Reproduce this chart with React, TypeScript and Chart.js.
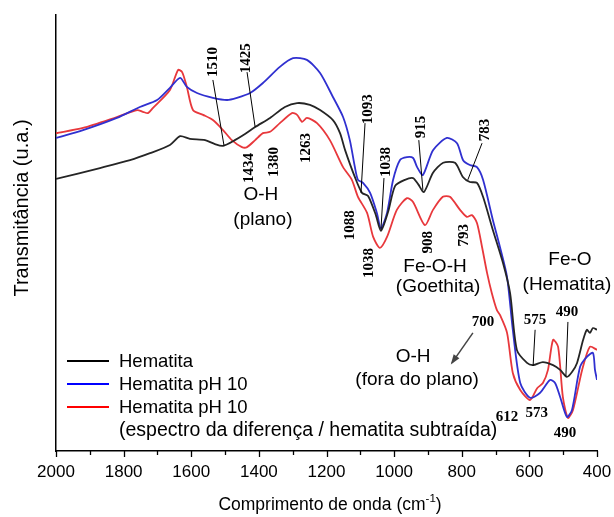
import React, { useEffect, useRef } from "react";
import { Chart, registerables } from "chart.js";
Chart.register(...registerables);

// Wavenumbers (cm-1) and transmittance (arbitrary units 0-100)
const hematitaWn = [2000, 1870, 1781, 1722, 1663, 1633, 1604, 1559, 1530, 1506, 1471, 1441, 1411, 1367, 1323, 1287, 1249, 1219, 1181, 1160, 1145, 1116, 1095, 1077, 1054, 1039, 1018, 997, 968, 944, 929, 912, 885, 855, 820, 796, 776, 755, 737, 708, 678, 657, 637, 607, 589, 560, 530, 509, 489, 474, 459, 441, 430, 421, 412, 400];
const hematitaT = [62.4, 64.9, 66.7, 68.3, 70.2, 72.2, 71.6, 71.3, 70.4, 70.0, 71.3, 72.7, 74.3, 76.4, 78.9, 79.8, 79.4, 78.2, 75.9, 72.9, 69.0, 62.8, 59.2, 58.5, 54.1, 50.5, 54.8, 60.8, 62.2, 62.6, 61.2, 59.4, 63.8, 66.1, 66.1, 62.8, 61.7, 61.5, 58.3, 50.7, 43.1, 36.2, 23.2, 20.2, 19.7, 20.4, 19.7, 18.6, 17.0, 18.1, 20.2, 25.5, 27.8, 27.1, 28.2, 27.8];

const ph10Wn = [2000, 1920, 1820, 1752, 1701, 1663, 1633, 1613, 1583, 1536, 1494, 1465, 1426, 1388, 1338, 1299, 1258, 1219, 1181, 1151, 1131, 1116, 1107, 1092, 1071, 1051, 1039, 1021, 1003, 983, 962, 944, 932, 915, 885, 844, 814, 796, 776, 755, 737, 708, 687, 666, 649, 627, 598, 569, 539, 524, 509, 489, 474, 450, 430, 412, 406, 400];
const ph10T = [71.8, 73.6, 76.4, 78.9, 80.5, 83.3, 85.6, 83.5, 82.1, 81.0, 80.5, 81.0, 82.1, 84.4, 88.1, 90.1, 89.7, 86.7, 81.2, 76.6, 71.3, 65.1, 62.2, 61.5, 59.2, 54.6, 51.1, 54.6, 62.2, 66.7, 67.4, 67.2, 65.1, 63.3, 69.0, 71.8, 70.6, 66.7, 65.6, 65.1, 62.2, 53.0, 46.8, 39.9, 27.8, 15.6, 12.2, 13.3, 16.3, 15.6, 12.4, 7.8, 9.4, 19.3, 21.6, 22.5, 18.6, 16.3];

const diffWn = [2000, 1920, 1820, 1760, 1743, 1728, 1713, 1663, 1639, 1627, 1613, 1595, 1565, 1536, 1506, 1480, 1450, 1435, 1411, 1388, 1367, 1338, 1302, 1287, 1272, 1258, 1228, 1190, 1151, 1125, 1107, 1080, 1062, 1042, 1021, 992, 962, 944, 909, 885, 856, 835, 805, 785, 770, 755, 740, 725, 711, 696, 687, 666, 649, 627, 598, 577, 560, 545, 530, 515, 501, 486, 471, 444, 421, 400];
const diffT = [72.9, 74.1, 76.6, 78.2, 77.8, 77.5, 78.7, 82.8, 87.4, 86.9, 83.5, 78.2, 77.1, 75.9, 73.6, 71.3, 69.7, 69.7, 71.3, 72.9, 73.2, 75.2, 77.5, 77.1, 75.5, 76.4, 75.2, 71.3, 65.1, 62.2, 58.3, 54.6, 49.1, 46.6, 49.1, 55.3, 58.0, 57.1, 51.8, 55.3, 58.3, 58.3, 55.3, 53.7, 54.1, 52.3, 46.8, 40.8, 36.2, 32.3, 31.2, 27.1, 17.9, 14.0, 11.7, 14.4, 15.6, 18.6, 25.5, 23.9, 12.4, 7.6, 9.4, 18.6, 23.9, 23.2];

const seriesNames = ["Hematita", "Hematita pH 10", "Hematita pH 10"];
const legendNote = "(espectro da diferença / hematita subtraída)";
const xTicks = [2000, 1800, 1600, 1400, 1200, 1000, 800, 600, 400];

// Band labels: text, wavenumber, transmittance of label centre
const rotatedBands = [
  { text: "1510", wn: 1539, t: 89.2 },
  { text: "1425", wn: 1441, t: 90.1 },
  { text: "1434", wn: 1432, t: 64.9 },
  { text: "1380", wn: 1358, t: 66.3 },
  { text: "1263", wn: 1264, t: 69.5 },
  { text: "1093", wn: 1080, t: 78.4 },
  { text: "1038", wn: 1027, t: 66.3 },
  { text: "915", wn: 924, t: 74.3 },
  { text: "783", wn: 734, t: 73.6 },
  { text: "1088", wn: 1134, t: 51.8 },
  { text: "1038", wn: 1077, t: 43.1 },
  { text: "908", wn: 903, t: 47.9 },
  { text: "793", wn: 796, t: 49.5 },
];
const flatBands = [
  { text: "700", wn: 737, t: 29.6 },
  { text: "575", wn: 583, t: 30.0 },
  { text: "490", wn: 489, t: 31.9 },
  { text: "612", wn: 666, t: 7.8 },
  { text: "573", wn: 578, t: 8.7 },
  { text: "490", wn: 495, t: 4.1 },
];
const groupLabels = [
  { text: "O-H", wn: 1394, t: 58.7 },
  { text: "(plano)", wn: 1388, t: 53.0 },
  { text: "Fe-O-H", wn: 879, t: 42.2 },
  { text: "(Goethita)", wn: 870, t: 37.6 },
  { text: "Fe-O", wn: 480, t: 43.8 },
  { text: "(Hematita)", wn: 489, t: 38.1 },
  { text: "O-H", wn: 944, t: 21.6 },
  { text: "(fora do plano)", wn: 932, t: 16.3 },
];
// leader lines: [wn1, t1, wn2, t2]
const leaders = [
  [1536, 85.1, 1503, 70.0],
  [1435, 86.9, 1411, 74.3],
  [1086, 75.2, 1098, 59.2],
  [1030, 62.6, 1039, 50.7],
  [927, 71.3, 915, 59.9],
  [740, 70.6, 782, 62.2],
  [583, 27.8, 589, 19.5],
  [486, 29.6, 492, 17.2],
];
const arrow = [767, 27.1, 829, 20.2];

const SANS = '"Liberation Sans", Arial, sans-serif';
const SERIF = '"Liberation Serif", "Times New Roman", serif';

const toPts = (xs: number[], ys: number[]) => xs.map((x, i) => ({ x, y: ys[i] }));

const decorPlugin = {
  id: "decor",
  afterDraw(chart: any) {
    const { ctx, chartArea, scales } = chart;
    const x = scales.x, y = scales.y;
    ctx.save();
    // x ticks
    ctx.strokeStyle = "#000";
    ctx.lineWidth = 1.3;
    for (let w = 400; w <= 2000; w += 100) {
      const px = Math.round(x.getPixelForValue(w)) + 0.5;
      const len = w % 200 === 0 ? 6 : 4;
      ctx.beginPath();
      ctx.moveTo(px, chartArea.bottom);
      ctx.lineTo(px, chartArea.bottom + len);
      ctx.stroke();
    }
    // leader lines
    ctx.lineWidth = 1;
    ctx.strokeStyle = "#000";
    leaders.forEach(([a, b, c, d]) => {
      ctx.beginPath();
      ctx.moveTo(x.getPixelForValue(a), y.getPixelForValue(b));
      ctx.lineTo(x.getPixelForValue(c), y.getPixelForValue(d));
      ctx.stroke();
    });
    // arrow
    {
      const x1 = x.getPixelForValue(arrow[0]), y1 = y.getPixelForValue(arrow[1]);
      const x2 = x.getPixelForValue(arrow[2]), y2 = y.getPixelForValue(arrow[3]);
      ctx.strokeStyle = "#444";
      ctx.fillStyle = "#444";
      ctx.lineWidth = 1.5;
      ctx.beginPath();
      ctx.moveTo(x1, y1);
      ctx.lineTo(x2, y2);
      ctx.stroke();
      const ang = Math.atan2(y2 - y1, x2 - x1);
      const hl = 8, hw = 3.5;
      ctx.beginPath();
      ctx.moveTo(x2 + Math.cos(ang) * 2, y2 + Math.sin(ang) * 2);
      ctx.lineTo(x2 - Math.cos(ang) * hl + Math.sin(ang) * hw, y2 - Math.sin(ang) * hl - Math.cos(ang) * hw);
      ctx.lineTo(x2 - Math.cos(ang) * hl - Math.sin(ang) * hw, y2 - Math.sin(ang) * hl + Math.cos(ang) * hw);
      ctx.closePath();
      ctx.fill();
    }
    // band labels
    ctx.fillStyle = "#000";
    ctx.font = `bold 15px ${SERIF}`;
    ctx.textAlign = "center";
    ctx.textBaseline = "middle";
    rotatedBands.forEach((b) => {
      ctx.save();
      ctx.translate(x.getPixelForValue(b.wn), y.getPixelForValue(b.t));
      ctx.rotate(-Math.PI / 2);
      ctx.fillText(b.text, 0, 1);
      ctx.restore();
    });
    flatBands.forEach((b) => {
      ctx.fillText(b.text, x.getPixelForValue(b.wn), y.getPixelForValue(b.t));
    });
    ctx.font = `19px ${SANS}`;
    groupLabels.forEach((g) => {
      ctx.fillText(g.text, x.getPixelForValue(g.wn), y.getPixelForValue(g.t));
    });
    // legend
    const colors = ["#000000", "#0000ff", "#ff0000"];
    const ly = [361, 384, 407];
    ctx.textAlign = "left";
    ctx.font = `18.5px ${SANS}`;
    seriesNames.forEach((n, i) => {
      ctx.strokeStyle = colors[i];
      ctx.lineWidth = 2;
      ctx.beginPath();
      ctx.moveTo(67, ly[i]);
      ctx.lineTo(109, ly[i]);
      ctx.stroke();
      ctx.fillStyle = "#000";
      ctx.fillText(n, 119, ly[i] + 1);
    });
    ctx.font = `19.5px ${SANS}`;
    ctx.fillText(legendNote, 119, 431);
    // axis titles
    const F = 17.5;
    const FS = 11.5;
    ctx.font = `${F}px ${SANS}`;
    ctx.textAlign = "left";
    ctx.textBaseline = "alphabetic";
    const main = "Comprimento de onda (cm";
    const sup = "-1";
    const tail = ")";
    const wMain = ctx.measureText(main).width;
    ctx.font = `${FS}px ${SANS}`;
    const wSup = ctx.measureText(sup).width;
    ctx.font = `${F}px ${SANS}`;
    const wTail = ctx.measureText(tail).width;
    const total = wMain + wSup + wTail;
    const cx = 330;
    const sx = cx - total / 2;
    const base = 510;
    ctx.fillText(main, sx, base);
    ctx.font = `${FS}px ${SANS}`;
    ctx.fillText(sup, sx + wMain, base - 8);
    ctx.font = `${F}px ${SANS}`;
    ctx.fillText(tail, sx + wMain + wSup, base);
    ctx.save();
    ctx.translate(22, 208);
    ctx.rotate(-Math.PI / 2);
    ctx.textAlign = "center";
    ctx.textBaseline = "middle";
    ctx.font = `20px ${SANS}`;
    ctx.fillText("Transmitância (u.a.)", 0, 0);
    ctx.restore();
    ctx.restore();
  },
};

export default function App() {
  const ref = useRef<HTMLCanvasElement>(null);
  useEffect(() => {
    if (!ref.current) return;
    const chart = new Chart(ref.current, {
      type: "line",
      data: {
        datasets: [
          { label: seriesNames[0], data: toPts(hematitaWn, hematitaT), borderColor: "#252525", borderWidth: 1.8, pointRadius: 0, tension: 0.25 },
          { label: seriesNames[1], data: toPts(ph10Wn, ph10T), borderColor: "#3030d0", borderWidth: 1.8, pointRadius: 0, tension: 0.25 },
          { label: seriesNames[2], data: toPts(diffWn, diffT), borderColor: "#e8383c", borderWidth: 1.8, pointRadius: 0, tension: 0.25 },
        ],
      },
      options: {
        animation: false,
        responsive: true,
        maintainAspectRatio: false,
        layout: { padding: { top: 15, right: 17, left: 0, bottom: 0 } },
        plugins: { legend: { display: false }, tooltip: { enabled: false } },
        scales: {
          x: {
            type: "linear",
            reverse: true,
            min: 400,
            max: 2000,
            afterFit: (s: any) => { s.height = 66; s.paddingLeft = 0; s.paddingRight = 0; },
            afterBuildTicks: (s: any) => { s.ticks = xTicks.map((v) => ({ value: v })); },
            ticks: { font: { family: SANS, size: 17 }, color: "#000", padding: 11, maxRotation: 0, autoSkip: false, callback: (v: any) => String(v) },
            grid: { display: false, drawTicks: false },
            border: { display: true, color: "#000", width: 1.5 },
          },
          y: {
            min: 0,
            max: 100,
            afterFit: (s: any) => { s.width = 56; s.paddingTop = 0; s.paddingBottom = 0; },
            ticks: { display: false },
            grid: { display: false, drawTicks: false },
            border: { display: true, color: "#000", width: 1.5 },
          },
        },
      },
      plugins: [decorPlugin],
    });
    return () => chart.destroy();
  }, []);
  return (
    <div style={{ position: "fixed", left: 0, top: 0, width: 614, height: 517, background: "#fff" }}>
      <canvas ref={ref} />
    </div>
  );
}
